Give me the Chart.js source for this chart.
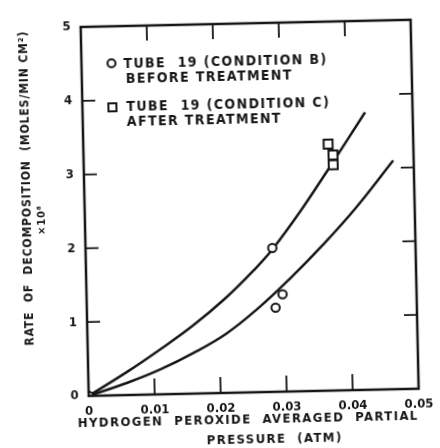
<!DOCTYPE html>
<html>
<head>
<meta charset="utf-8">
<script src="https://cdn.jsdelivr.net/npm/chart.js@4/dist/chart.umd.min.js"></script>
<style>
  html, body { margin: 0; padding: 0; background: #fff; overflow: hidden; }
  #sheet {
    position: relative; width: 440px; height: 448px;
    transform: rotate(-1.25deg); transform-origin: 220px 224px;
    font-family: "DejaVu Sans Condensed", "DejaVu Sans", sans-serif;
    font-weight: bold; color: #161616;
  }
  #sheet canvas { position: absolute; left: 0; top: 0; }
  .lbl { position: absolute; white-space: nowrap; line-height: 1; }
  .ytitle { font-size: 12px; letter-spacing: 0.9px; transform: translate(-50%, -50%) rotate(-90deg); }
  .xtitle { font-size: 13px; letter-spacing: 1.4px; transform: translate(-50%, -50%); }
  .leg { font-size: 14px; letter-spacing: 1.4px; transform: translateY(-50%); }
  .mk { position: absolute; box-sizing: border-box; border: 2px solid #161616; transform: translate(-50%, -50%); }
</style>
</head>
<body>
<div id="sheet">
  <canvas id="rateChart" width="440" height="448"></canvas>

  <div class="lbl ytitle" style="left:27px; top:184px;">RATE&nbsp; OF&nbsp; DECOMPOSITION&nbsp; (MOLES/MIN CM²)</div>
  <div class="lbl ytitle" style="left:41px; top:216px; font-size:11px;">×10⁸</div>

  <div class="lbl xtitle" style="left:244px; top:419px;">HYDROGEN&nbsp; PEROXIDE&nbsp; AVERAGED&nbsp; PARTIAL</div>
  <div class="lbl xtitle" style="left:270px; top:439px;">PRESSURE&nbsp; (ATM)</div>

  <div class="mk" style="left:115px; top:61px; width:10px; height:10px; border-radius:50%;"></div>
  <div class="lbl leg" style="left:127px; top:61px;">TUBE&nbsp; 19 (CONDITION B)</div>
  <div class="lbl leg" style="left:129px; top:76px;">BEFORE TREATMENT</div>
  <div class="mk" style="left:115px; top:105px; width:10px; height:10px;"></div>
  <div class="lbl leg" style="left:129px; top:104px;">TUBE&nbsp; 19 (CONDITION C)</div>
  <div class="lbl leg" style="left:129px; top:119px;">AFTER TREATMENT</div>
</div>

<script>
// measured points, partial pressure (atm) vs rate x10^8
var condBPressure = [0, 0.0283, 0.0297, 0.0286];
var condBRate = [0, 1.95, 1.32, 1.14];

var condCPressure = [0.0371, 0.0378, 0.0378];
var condCRate = [3.34, 3.19, 3.06];

// fitted curves
var upperPressure = [0, 0.006, 0.011, 0.016, 0.021, 0.0255, 0.0283, 0.033, 0.0375, 0.0428];
var upperRate = [0, 0.32, 0.61, 0.92, 1.28, 1.66, 1.93, 2.48, 3.06, 3.76];

var lowerPressure = [0, 0.006, 0.011, 0.016, 0.021, 0.026, 0.031, 0.036, 0.041, 0.0469];
var lowerRate = [0, 0.17, 0.34, 0.55, 0.80, 1.14, 1.54, 1.98, 2.46, 3.10];

var xTicks = [0, 0.01, 0.02, 0.03, 0.04, 0.05];
var yTicks = [0, 1, 2, 3, 4, 5];

var ink = '#161616';

function toPoints(xs, ys) {
    var pts = [];
    for (var i = 0; i < xs.length; i++) pts.push({ x: xs[i], y: ys[i] });
    return pts;
}

// box around the plot with short ticks pointing inward on all four sides
var framePlugin = {
    id: 'frame',
    afterDraw: function (chart) {
        var ctx = chart.ctx;
        var a = chart.chartArea;
        var xs = chart.scales.x, ys = chart.scales.y;
        ctx.save();
        ctx.strokeStyle = ink;
        ctx.lineWidth = 2.5;
        ctx.strokeRect(a.left, a.top, a.right - a.left, a.bottom - a.top);
        ctx.lineWidth = 1.8;
        ctx.beginPath();
        for (var i = 1; i < xTicks.length - 1; i++) {
            var px = xs.getPixelForValue(xTicks[i]);
            ctx.moveTo(px, a.bottom); ctx.lineTo(px, a.bottom - 16);
            ctx.moveTo(px, a.top); ctx.lineTo(px, a.top + 15);
        }
        for (var j = 1; j < yTicks.length - 1; j++) {
            var py = ys.getPixelForValue(yTicks[j]);
            ctx.moveTo(a.left, py); ctx.lineTo(a.left + 13, py);
            ctx.moveTo(a.right, py); ctx.lineTo(a.right - 13, py);
        }
        ctx.stroke();
        ctx.restore();
    }
};

var tickFont = { family: '"DejaVu Sans Condensed", "DejaVu Sans", sans-serif', size: 13, weight: 'bold' };

new Chart(document.getElementById('rateChart').getContext('2d'), {
    type: 'scatter',
    data: {
        datasets: [
            {
                label: 'upper fit',
                data: toPoints(upperPressure, upperRate),
                showLine: true, borderColor: ink, borderWidth: 2.5,
                pointRadius: 0, tension: 0.4, order: 3
            },
            {
                label: 'lower fit',
                data: toPoints(lowerPressure, lowerRate),
                showLine: true, borderColor: ink, borderWidth: 2.5,
                pointRadius: 0, tension: 0.4, order: 3
            },
            {
                label: 'TUBE 19 (CONDITION B) BEFORE TREATMENT',
                data: toPoints(condBPressure, condBRate),
                pointStyle: 'circle', pointRadius: 4.2, borderWidth: 2,
                borderColor: ink, backgroundColor: '#fff', order: 1
            },
            {
                label: 'TUBE 19 (CONDITION C) AFTER TREATMENT',
                data: toPoints(condCPressure, condCRate),
                pointStyle: 'rect', pointRadius: 6.3, borderWidth: 2,
                borderColor: ink, backgroundColor: '#fff', order: 1
            }
        ]
    },
    options: {
        responsive: false,
        animation: false,
        layout: { padding: { left: 0, top: 24, right: 25, bottom: 0 } },
        plugins: { legend: { display: false }, tooltip: { enabled: false } },
        scales: {
            x: {
                type: 'linear', min: 0, max: 0.05,
                afterBuildTicks: function (s) { s.ticks = xTicks.map(function (v) { return { value: v }; }); },
                afterFit: function (s) { s.height = 55; },
                grid: { display: false, drawTicks: false },
                border: { display: false },
                ticks: {
                    color: ink, font: tickFont, padding: 8, maxRotation: 0,
                    callback: function (v) { return v === 0 ? '0' : Number(v).toFixed(2); }
                }
            },
            y: {
                type: 'linear', min: 0, max: 5,
                afterBuildTicks: function (s) { s.ticks = yTicks.map(function (v) { return { value: v }; }); },
                afterFit: function (s) { s.width = 85; },
                grid: { display: false, drawTicks: false },
                border: { display: false },
                ticks: { color: ink, font: tickFont, padding: 10 }
            }
        }
    },
    plugins: [framePlugin]
});
</script>
</body>
</html>
